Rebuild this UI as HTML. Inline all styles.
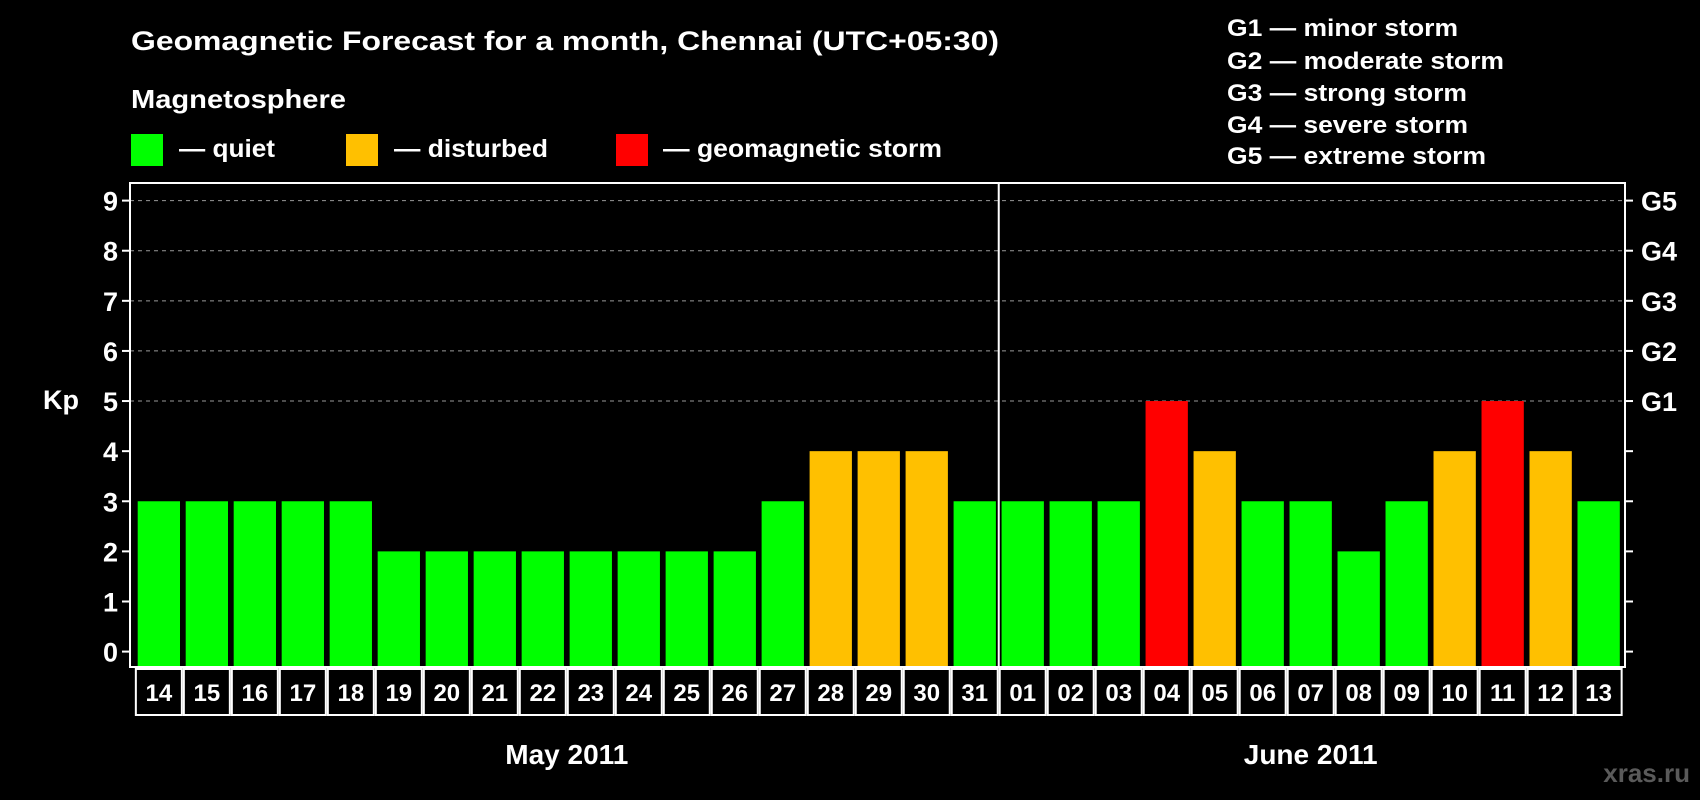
<!DOCTYPE html>
<html><head><meta charset="utf-8"><style>
html,body{margin:0;padding:0;background:#000;}
svg{display:block;font-family:"Liberation Sans",sans-serif;font-weight:bold;}
</style></head><body>
<svg id="c" width="1700" height="800" viewBox="0 0 1700 800">
<rect width="1700" height="800" fill="#000"/>
<text x="131" y="50" font-size="27" fill="#fff" textLength="868" lengthAdjust="spacingAndGlyphs">Geomagnetic Forecast for a month, Chennai (UTC+05:30)</text>
<text x="131" y="108" font-size="26" fill="#fff" textLength="215" lengthAdjust="spacingAndGlyphs">Magnetosphere</text>
<g>
<rect x="131" y="134" width="32" height="32" fill="#00ff00"/>
<text x="179" y="157" font-size="25" fill="#fff" textLength="96" lengthAdjust="spacingAndGlyphs">— quiet</text></g>
<g>
<rect x="346" y="134" width="32" height="32" fill="#ffc000"/>
<text x="394" y="157" font-size="25" fill="#fff" textLength="154" lengthAdjust="spacingAndGlyphs">— disturbed</text></g>
<g>
<rect x="616" y="134" width="32" height="32" fill="#ff0000"/>
<text x="663" y="157" font-size="25" fill="#fff" textLength="279" lengthAdjust="spacingAndGlyphs">— geomagnetic storm</text></g>
<g font-size="24" fill="#fff">
<text x="1227" y="36" textLength="231" lengthAdjust="spacingAndGlyphs">G1 — minor storm</text>
<text x="1227" y="69" textLength="277" lengthAdjust="spacingAndGlyphs">G2 — moderate storm</text>
<text x="1227" y="101" textLength="240" lengthAdjust="spacingAndGlyphs">G3 — strong storm</text>
<text x="1227" y="133" textLength="241" lengthAdjust="spacingAndGlyphs">G4 — severe storm</text>
<text x="1227" y="164" textLength="259" lengthAdjust="spacingAndGlyphs">G5 — extreme storm</text>
</g>
<text x="43" y="409" font-size="27" fill="#fff">Kp</text>
<text x="1690" y="782" font-size="26" fill="#5a5a5a" text-anchor="end">xras.ru</text>
<g id="plot"></g>
</svg>
<script>
const dayLabels = ["14","15","16","17","18","19","20","21","22","23","24","25","26","27","28","29","30","31","01","02","03","04","05","06","07","08","09","10","11","12","13"];
const kpValues = [3,3,3,3,3,2,2,2,2,2,2,2,2,3,4,4,4,3,3,3,3,5,4,3,3,2,3,4,5,4,3];
const yTicks = [0,1,2,3,4,5,6,7,8,9];
const gLabels = ["G1","G2","G3","G4","G5"];
const gLevels = [5,6,7,8,9];
const months = ["May 2011","June 2011"];
const monthStart = [0,18];

const NS="http://www.w3.org/2000/svg";
const plot=document.getElementById('plot');
const L=130,R=1625,T=183,B=667;
const n=dayLabels.length;
const x0=137.7, slot=(1577.5-x0)/(n-1), bw=42.3;
const yS=v=>651.6-v*(651.6-200.6)/9;
const xS=i=>x0+i*slot;
function mk(tag,attrs,parent){const e=document.createElementNS(NS,tag);for(const k in attrs)e.setAttribute(k,attrs[k]);(parent||plot).appendChild(e);return e;}
function col(v){return v>=5?"#ff0000":v>=4?"#ffc000":"#00ff00";}

yTicks.forEach(v=>{
  if(v>=5){const g=mk('line',{x1:L,x2:R,y1:yS(v),y2:yS(v),stroke:"#999","stroke-dasharray":"4,4","stroke-width":1});
  
  }
  const t=mk('line',{x1:L-8,x2:L,y1:yS(v),y2:yS(v),stroke:"#fff","stroke-width":2});
  
  
  const t2=mk('line',{x1:R,x2:R+8,y1:yS(v),y2:yS(v),stroke:"#fff","stroke-width":2});
  
  
  const lb=mk('text',{x:L-12,y:yS(v)+10,"font-size":27,fill:"#fff","text-anchor":"end"});
  lb.textContent=v;
  
  
});
gLabels.forEach((g,i)=>{
  const lb=mk('text',{x:R+16,y:yS(gLevels[i])+10,"font-size":27,fill:"#fff"});
  lb.textContent=g;
  
  
});
kpValues.forEach((v,i)=>{
  const b=mk('rect',{x:xS(i),y:yS(v),width:bw,height:B-yS(v),fill:col(v)});
  
  
});
const fr=mk('rect',{x:L,y:T,width:R-L,height:B-T,fill:"none",stroke:"#fff","stroke-width":2});


const dv=xS(monthStart[1])-(slot-bw)/2;
const dl=mk('line',{x1:dv,x2:dv,y1:T,y2:B,stroke:"#fff","stroke-width":2});


dayLabels.forEach((d,i)=>{
  const bx=xS(i)-(slot-bw)/2;
  const r=mk('rect',{x:bx+1,y:B+2,width:slot-2,height:46,fill:"#000",stroke:"#fff","stroke-width":2});
  
  
  const t=mk('text',{x:xS(i)+bw/2,y:B+34,"font-size":24,fill:"#fff","text-anchor":"middle"});
  t.textContent=d;
  
  
});
months.forEach((m,k)=>{
  const s=monthStart[k], e=(k+1<months.length?monthStart[k+1]:n)-1;
  const cx=(xS(s)+xS(e)+bw)/2;
  const t=mk('text',{x:cx,y:764,"font-size":28,fill:"#fff","text-anchor":"middle"});
  t.textContent=m;
  
  
});
</script>
</body></html>
